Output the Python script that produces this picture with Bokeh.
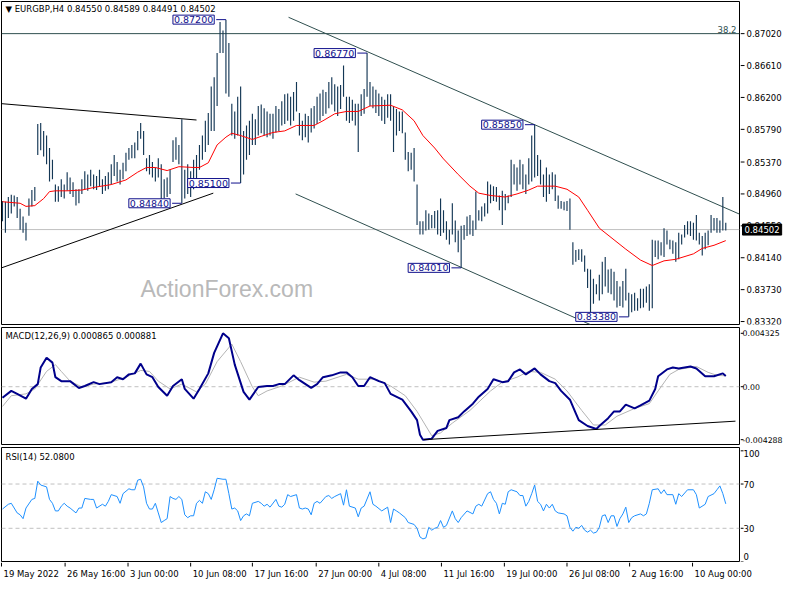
from bokeh.plotting import figure
from bokeh.layouts import column, row
from bokeh.models import Range1d, Span, Label
from bokeh.embed import file_html
from bokeh.resources import INLINE

# ---------------- data ----------------
symbol = "EURGBP,H4"
last_open = 0.84550
last_close = 0.84502
fib_level = 0.87020
fib_text = "38.2"

highs = [
    0.8487, 0.8486, 0.8492, 0.8495, 0.8494, 0.8492, 0.8477, 0.8467, 0.8459, 0.8490,
    0.8501, 0.8505, 0.8586, 0.8587, 0.8577, 0.8571, 0.8555, 0.8540, 0.8508, 0.8506,
    0.8515, 0.8508, 0.8524, 0.8517, 0.8511, 0.8502, 0.8502, 0.8515, 0.8525, 0.8521,
    0.8527, 0.8521, 0.8519, 0.8527, 0.8515, 0.8519, 0.8524, 0.8534, 0.8546, 0.8537,
    0.8527, 0.8536, 0.8549, 0.8555, 0.8559, 0.8562, 0.8577, 0.8587, 0.8577, 0.8542,
    0.8546, 0.8537, 0.8530, 0.8542, 0.8534, 0.8515, 0.8517, 0.8527, 0.8565, 0.8569,
    0.8559, 0.8592, 0.8527, 0.8534, 0.8525, 0.8540, 0.8546, 0.8559, 0.8571, 0.8590,
    0.8600, 0.8634, 0.8646, 0.8677, 0.8717, 0.8706, 0.8720, 0.8690, 0.8612, 0.8602,
    0.8621, 0.8634, 0.8577, 0.8584, 0.8590, 0.8599, 0.8592, 0.8609, 0.8611, 0.8606,
    0.8602, 0.8599, 0.8599, 0.8609, 0.8605, 0.8615, 0.8624, 0.8625, 0.8621, 0.8627,
    0.8640, 0.8600, 0.8590, 0.8599, 0.8596, 0.8606, 0.8609, 0.8621, 0.8625, 0.8630,
    0.8627, 0.8640, 0.8646, 0.8637, 0.8634, 0.8636, 0.8661, 0.8621, 0.8621, 0.8617,
    0.8612, 0.8612, 0.8624, 0.8631, 0.8677, 0.8640, 0.8634, 0.8630, 0.8625, 0.8621,
    0.8617, 0.8624, 0.8624, 0.8609, 0.8605, 0.8602, 0.8602, 0.8575, 0.8550, 0.8549,
    0.8555, 0.8508, 0.8461, 0.8461, 0.8475, 0.8471, 0.8469, 0.8474, 0.8475, 0.8490,
    0.8475, 0.8461, 0.8450, 0.8484, 0.8462, 0.8449, 0.8455, 0.8456, 0.8467, 0.8469,
    0.8462, 0.8499, 0.8475, 0.8480, 0.8484, 0.8512, 0.8508, 0.8506, 0.8505, 0.8494,
    0.8500, 0.8496, 0.8494, 0.8540, 0.8534, 0.8530, 0.8540, 0.8534, 0.8521, 0.8542,
    0.8571, 0.8585, 0.8546, 0.8540, 0.8521, 0.8530, 0.8521, 0.8524, 0.8521, 0.8494,
    0.8487, 0.8486, 0.8487, 0.8490, 0.8434, 0.8424, 0.8425, 0.8425, 0.8417, 0.8400,
    0.8399, 0.8387, 0.8380, 0.8392, 0.8409, 0.8415, 0.8399, 0.8400, 0.8396, 0.8384,
    0.8377, 0.8384, 0.8400, 0.8369, 0.8367, 0.8369, 0.8362, 0.8374, 0.8374, 0.8377,
    0.8380, 0.8437, 0.8436, 0.8436, 0.8434, 0.8452, 0.8449, 0.8437, 0.8436, 0.8434,
    0.8446, 0.8444, 0.8456, 0.8461, 0.8461, 0.8459, 0.8469, 0.8446, 0.8442, 0.8446,
    0.8449, 0.8469, 0.8465, 0.8465, 0.8462, 0.8492, 0.84589,
]
lows = [
    0.8461, 0.8446, 0.8465, 0.8471, 0.8480, 0.8465, 0.8450, 0.8446, 0.8436, 0.8468,
    0.8480, 0.8487, 0.8546, 0.8552, 0.8544, 0.8534, 0.8512, 0.8515, 0.8486, 0.8486,
    0.8492, 0.8490, 0.8500, 0.8496, 0.8492, 0.8481, 0.8484, 0.8496, 0.8502, 0.8500,
    0.8506, 0.8502, 0.8501, 0.8506, 0.8496, 0.8500, 0.8502, 0.8508, 0.8519, 0.8512,
    0.8508, 0.8515, 0.8525, 0.8540, 0.8542, 0.8542, 0.8552, 0.8567, 0.8546, 0.8525,
    0.8521, 0.8517, 0.8512, 0.8517, 0.8487, 0.8490, 0.8492, 0.8496, 0.8537, 0.8540,
    0.8534, 0.8484, 0.8490, 0.8496, 0.8492, 0.8502, 0.8515, 0.8527, 0.8540, 0.8550,
    0.8559, 0.8577, 0.8577, 0.8609, 0.8677, 0.8677, 0.8625, 0.8621, 0.8571, 0.8567,
    0.8571, 0.8510, 0.8521, 0.8540, 0.8546, 0.8559, 0.8559, 0.8571, 0.8574, 0.8571,
    0.8569, 0.8571, 0.8567, 0.8575, 0.8577, 0.8584, 0.8586, 0.8590, 0.8584, 0.8590,
    0.8602, 0.8571, 0.8565, 0.8569, 0.8562, 0.8575, 0.8580, 0.8586, 0.8590, 0.8596,
    0.8599, 0.8606, 0.8611, 0.8602, 0.8596, 0.8605, 0.8621, 0.8590, 0.8587, 0.8590,
    0.8584, 0.8550, 0.8596, 0.8599, 0.8621, 0.8609, 0.8606, 0.8600, 0.8596, 0.8590,
    0.8586, 0.8594, 0.8590, 0.8550, 0.8571, 0.8577, 0.8574, 0.8540, 0.8525, 0.8527,
    0.8512, 0.8456, 0.8444, 0.8444, 0.8449, 0.8450, 0.8452, 0.8452, 0.8444, 0.8442,
    0.8446, 0.8437, 0.8431, 0.8444, 0.8434, 0.8421, 0.8401, 0.8437, 0.8442, 0.8444,
    0.8442, 0.8450, 0.8462, 0.8461, 0.8467, 0.8471, 0.8484, 0.8487, 0.8486, 0.8475,
    0.8456, 0.8475, 0.8484, 0.8492, 0.8508, 0.8500, 0.8508, 0.8502, 0.8496, 0.8508,
    0.8512, 0.8517, 0.8519, 0.8508, 0.8492, 0.8486, 0.8496, 0.8502, 0.8487, 0.8477,
    0.8477, 0.8475, 0.8474, 0.8450, 0.8405, 0.8409, 0.8411, 0.8409, 0.8396, 0.8375,
    0.8342, 0.8355, 0.8367, 0.8359, 0.8367, 0.8377, 0.8369, 0.8367, 0.8359, 0.8350,
    0.8352, 0.8350, 0.8359, 0.8338, 0.8344, 0.8346, 0.8346, 0.8349, 0.8350, 0.8356,
    0.8346, 0.8349, 0.8415, 0.8412, 0.8417, 0.8415, 0.8431, 0.8425, 0.8419, 0.8409,
    0.8412, 0.8431, 0.8440, 0.8444, 0.8442, 0.8437, 0.8436, 0.8431, 0.8417, 0.8425,
    0.8430, 0.8446, 0.8449, 0.8446, 0.8446, 0.8449, 0.84491,
]
bar_idx = list(range(1, len(highs) + 1))

ma_idx = [1, 7, 9, 12, 15, 17, 19, 23, 28, 33,
          38, 43, 47, 50, 53, 57, 61, 66, 68, 71,
          74, 77, 79, 82, 86, 89, 93, 97, 101, 107,
          110, 114, 118, 122, 126, 133, 137, 141, 144, 148,
          151, 156, 160, 163, 167, 172, 176, 180, 183, 189,
          193, 197, 200, 204, 209, 213, 218, 222, 226, 230,
          236, 239, 243, 247]
ma_val = [0.8486, 0.8484, 0.8480, 0.8481, 0.8490, 0.8499, 0.8500, 0.8500, 0.8501, 0.8505,
          0.8508, 0.8514, 0.8524, 0.8530, 0.8530, 0.8526, 0.8531, 0.8530, 0.8530, 0.8536,
          0.8559, 0.8569, 0.8574, 0.8571, 0.8566, 0.8570, 0.8575, 0.8577, 0.8584, 0.8584,
          0.8590, 0.8599, 0.8602, 0.8602, 0.8609, 0.8610, 0.8604, 0.8590, 0.8571, 0.8555,
          0.8541, 0.8521, 0.8506, 0.8497, 0.8494, 0.8492, 0.8496, 0.8501, 0.8506, 0.8506,
          0.8502, 0.8492, 0.8475, 0.8452, 0.8437, 0.8425, 0.8411, 0.8404, 0.8410, 0.8412,
          0.8419, 0.8426, 0.8430, 0.8436]

# swing highs / lows marked on the chart
swing_idx = [77, 62, 82, 125, 157, 182, 214]
swing_price = [0.87200, 0.84840, 0.85100, 0.86770, 0.84010, 0.85850, 0.83380]

# trend lines (bar index, price)
tl_upper_left_x = [0.67, 67.0]
tl_upper_left_y = [0.8612, 0.8591]
tl_lower_left_x = [0.67, 72.7]
tl_lower_left_y = [0.8401, 0.8497]
ch_upper_x = [98.3, 251.7]
ch_upper_y = [0.8723, 0.8470]
ch_lower_x = [100.7, 201.0]
ch_lower_y = [0.8496, 0.8328]

price_ticks = [0.87020, 0.86610, 0.86200, 0.85790, 0.85370, 0.84960, 0.84550, 0.84140, 0.83730, 0.83320]

macd_idx = [1, 4, 6, 9, 11, 13, 14, 16, 18, 19,
            21, 24, 27, 29, 32, 34, 38, 40, 42, 44,
            46, 48, 50, 52, 54, 57, 59, 62, 63, 66,
            68, 71, 73, 76, 78, 80, 83, 85, 88, 91,
            93, 95, 97, 100, 102, 106, 108, 110, 113, 116,
            118, 120, 122, 124, 126, 129, 131, 133, 137, 140,
            142, 143, 144, 147, 149, 152, 153, 156, 158, 161,
            163, 166, 168, 171, 173, 175, 177, 179, 182, 184,
            187, 189, 191, 194, 196, 197, 200, 203, 204, 207,
            209, 211, 213, 216, 218, 221, 223, 224, 227, 229,
            231, 235, 237, 240, 243, 246, 247]
macd_val = [-0.00089, -0.00034, -0.00058, -0.00097, -0.00018, 0.00021, 0.00156, 0.00235, 0.00195, 0.00077,
            0.00045, 0.00045, -0.00010, 0.00006, 0.00037, 0.00021, 0.00037, 0.00077, 0.00061, 0.00100,
            0.00108, 0.00187, 0.00100, 0.00077, -0.00002, -0.00073, 0.00006, 0.00061, -0.00018, -0.00097,
            -0.00018, 0.00108, 0.00274, 0.004325, 0.00393, 0.00179, -0.00042, -0.00105, -0.00002, 0.00006,
            0.00006, 0.00021, 0.00021, 0.00092, 0.00053, -0.00010, 0.00021, 0.00077, 0.00092, 0.00116,
            0.00116, 0.00077, 0.00006, 0.00006, 0.00077, 0.00045, 0.00029, -0.00058, -0.00105, -0.00200,
            -0.00271, -0.00389, -0.004288, -0.00421, -0.00358, -0.00334, -0.00271, -0.00247, -0.00200, -0.00137,
            -0.00081, -0.00018, 0.00061, 0.00037, 0.00045, 0.00116, 0.00140, 0.00100, 0.00148, 0.00100,
            0.00045, 0.00029, -0.00034, -0.00105, -0.00216, -0.00271, -0.00318, -0.00342, -0.00318, -0.00255,
            -0.00200, -0.00200, -0.00145, -0.00176, -0.00152, -0.00113, -0.00018, 0.00085, 0.00140, 0.00156,
            0.00148, 0.00164, 0.00148, 0.00085, 0.00085, 0.00108, 0.000865]

sig_idx = [1, 4, 9, 12, 16, 19, 21, 24, 28, 32,
           38, 43, 48, 51, 54, 58, 62, 67, 70, 74,
           79, 82, 86, 88, 91, 96, 102, 107, 111, 118,
           122, 128, 133, 138, 142, 147, 150, 154, 160, 167,
           171, 176, 180, 184, 189, 193, 198, 202, 206, 210,
           216, 221, 224, 228, 231, 237, 241, 244, 247]
sig_val = [-0.00160, -0.00073, -0.00058, -0.00018, 0.00124, 0.00179, 0.00124, 0.00045, -0.00002, 0.00021,
           0.00037, 0.00077, 0.00132, 0.00124, 0.00045, -0.00018, 0.00021, -0.00042, 0.00021, 0.00203,
           0.00345, 0.00203, -0.00002, -0.00073, -0.00034, 0.00006, 0.00077, 0.00037, 0.00045, 0.00100,
           0.00061, 0.00061, 0.00006, -0.00073, -0.00200, -0.00397, -0.00374, -0.00295, -0.00192, -0.00034,
           0.00037, 0.00077, 0.00124, 0.00116, 0.00061, -0.00034, -0.00192, -0.00310, -0.00310, -0.00239,
           -0.00176, -0.00137, -0.00034, 0.00100, 0.00140, 0.00164, 0.00116, 0.00092, 0.000881]

macd_tl_x = [144.3, 250.3]
macd_tl_y = [-0.00429, -0.00279]
macd_ticks = [0.004325, 0.0, -0.004288]
macd_tick_text = ["0.004325", "0.00", "-0.004288"]

rsi_idx = [1, 3, 4, 6, 7, 8, 9, 11, 12, 13,
           14, 16, 17, 18, 19, 20, 21, 22, 23, 24,
           26, 27, 28, 29, 31, 32, 33, 35, 36, 37,
           38, 40, 41, 42, 44, 45, 46, 47, 48, 49,
           50, 51, 52, 53, 54, 55, 56, 57, 58, 59,
           60, 61, 62, 63, 64, 65, 66, 67, 68, 69,
           70, 71, 72, 73, 74, 76, 77, 78, 79, 80,
           81, 82, 83, 84, 85, 86, 88, 89, 90, 91,
           92, 94, 95, 96, 97, 98, 99, 101, 102, 103,
           104, 105, 106, 107, 108, 109, 111, 112, 113, 114,
           116, 117, 118, 119, 121, 122, 123, 124, 126, 127,
           128, 130, 132, 133, 134, 135, 136, 138, 139, 141,
           142, 143, 144, 145, 146, 147, 148, 149, 150, 151,
           152, 154, 155, 156, 157, 159, 161, 162, 163, 164,
           166, 167, 168, 169, 170, 171, 172, 173, 174, 176,
           177, 178, 179, 180, 181, 182, 183, 184, 185, 186,
           187, 188, 189, 190, 192, 193, 194, 195, 196, 197,
           198, 199, 200, 201, 202, 203, 204, 205, 206, 207,
           208, 209, 210, 211, 212, 213, 214, 215, 216, 218,
           219, 220, 221, 222, 224, 225, 226, 227, 229, 230,
           231, 232, 234, 236, 237, 238, 240, 241, 243, 244,
           245, 246, 247]
rsi_val = [47.4, 51.7, 52.6, 43.9, 42.2, 38.7, 48.3, 56.1, 57.0, 72.6,
           69.1, 67.4, 56.1, 52.6, 45.7, 45.7, 50.0, 52.6, 50.0, 48.3,
           43.9, 48.3, 48.3, 57.0, 56.1, 56.1, 48.3, 51.7, 50.0, 54.3,
           60.4, 58.7, 52.6, 61.3, 65.7, 64.8, 64.8, 73.5, 74.3, 67.4,
           52.6, 47.4, 47.4, 52.6, 43.9, 35.2, 37.0, 38.7, 58.7, 57.0,
           56.1, 58.7, 56.1, 42.2, 39.6, 41.3, 41.3, 52.6, 55.2, 52.6,
           63.0, 61.3, 56.1, 64.8, 75.2, 74.3, 74.3, 61.3, 47.4, 48.3,
           45.7, 37.0, 41.3, 43.0, 41.3, 52.6, 54.3, 52.6, 50.0, 51.7,
           49.1, 56.1, 50.0, 49.1, 51.7, 60.4, 58.7, 60.4, 48.3, 47.4,
           48.3, 47.4, 42.2, 52.6, 54.3, 52.6, 58.7, 59.6, 57.0, 58.7,
           61.3, 50.9, 64.8, 50.0, 48.3, 40.4, 48.3, 50.0, 63.0, 51.7,
           50.0, 45.7, 49.1, 35.2, 47.4, 45.7, 43.9, 39.6, 35.2, 33.5,
           30.0, 22.2, 20.4, 21.3, 30.9, 28.3, 30.0, 30.9, 37.0, 30.9,
           32.6, 45.7, 38.7, 35.2, 39.6, 45.7, 43.0, 50.0, 51.7, 50.0,
           61.3, 63.0, 56.1, 52.6, 43.0, 52.6, 51.7, 63.0, 64.8, 63.0,
           59.6, 59.6, 50.0, 54.3, 61.3, 69.1, 54.3, 51.7, 45.7, 51.7,
           48.3, 51.7, 45.7, 43.9, 43.0, 41.3, 30.9, 27.4, 30.9, 30.0,
           32.6, 28.3, 26.5, 28.3, 25.7, 26.5, 30.9, 41.3, 42.2, 35.2,
           41.3, 41.3, 31.7, 38.7, 43.0, 49.1, 35.2, 39.6, 41.3, 43.0,
           41.3, 43.0, 52.6, 64.8, 65.7, 61.3, 64.8, 60.4, 60.4, 51.7,
           61.3, 58.7, 64.8, 64.8, 60.4, 48.3, 51.7, 58.7, 61.3, 64.8,
           68.3, 61.3, 52.08]
rsi_levels = [70, 30]
rsi_ticks = [100, 70, 30, 0]

time_idx = [0.67, 22.3, 43.7, 65.0, 86.0, 107.7, 129.0, 150.3, 171.7, 193.0, 214.3, 235.7]
time_labels = ["19 May 2022", "26 May 16:00", "3 Jun 00:00", "10 Jun 08:00", "17 Jun 16:00",
               "27 Jun 00:00", "4 Jul 08:00", "11 Jul 16:00", "19 Jul 00:00", "26 Jul 08:00",
               "2 Aug 16:00", "10 Aug 00:00"]

# ---------------- styling ----------------
FONT = "DejaVu Sans"
FS = "8.5px"
TOTAL_W = 784
P_W = 740            # panel canvas width (1px border each side)
A_W = TOTAL_W - P_W  # right price-scale strip
FRAME_W = P_W - 2
BAR = "#143755"
BOX = "#10108C"
SLATE = "#2F4F4F"
SILVER = "#C0C0C0"

X0, X1 = 0.67, 251.67
x_rng = Range1d(X0, X1)
px_per_bar = FRAME_W / (X1 - X0)


def base_fig(w, h, xr, yr, left, right, top, bottom, outline=True):
    p = figure(width=w, height=h, x_range=xr, y_range=yr,
               output_backend="svg", toolbar_location=None, title=None,
               x_axis_location=None, y_axis_location=None,
               min_border_left=left, min_border_right=right,
               min_border_top=top, min_border_bottom=bottom)
    p.grid.visible = False
    p.outline_line_color = "black" if outline else None
    p.background_fill_color = "white"
    p.border_fill_color = "white"
    return p


def txt(p, x, y, text, xu="screen", yu="screen", **kw):
    opts = dict(text_font=FONT, text_font_size=FS, text_color="black",
                text_baseline="middle", text_align="left")
    opts.update(kw)
    p.add_layout(Label(x=x, y=y, x_units=xu, y_units=yu, text=text, **opts))


def scale_strip(h, yr, top, bottom, ticks, texts, tick_len, text_x, fs=FS, offsets=None):
    a = base_fig(A_W, h, Range1d(0, A_W), yr, 0, 0, top, bottom, outline=False)
    a.segment(x0=[0] * len(ticks), y0=ticks, x1=[tick_len] * len(ticks), y1=ticks,
              line_color="black", line_width=1)
    offsets = offsets or [0] * len(ticks)
    for v, t, off in zip(ticks, texts, offsets):
        txt(a, text_x, v, t, xu="data", yu="data", text_font_size=fs, y_offset=off)
    return a


# ---------------- main price panel ----------------
H1 = 326
FH1 = H1 - 3
y1r = Range1d(0.83282, 0.87433)
p1 = base_fig(P_W, H1, x_rng, y1r, 1, 1, 1, 2)

p1.add_layout(Span(location=fib_level, dimension="width", line_color=SLATE, line_width=1, level="underlay"))
p1.add_layout(Span(location=last_close, dimension="width", line_color=SILVER, line_width=1, level="underlay"))

txt(p1, 139, 36, "ActionForex.com", text_font="Liberation Sans", text_font_size="23px",
    text_color="#B9B9B9", text_baseline="alphabetic")

p1.line(tl_upper_left_x, tl_upper_left_y, line_color="black", line_width=1)
p1.line(tl_lower_left_x, tl_lower_left_y, line_color="black", line_width=1)
p1.line(ch_upper_x, ch_upper_y, line_color=SLATE, line_width=1)
p1.line(ch_lower_x, ch_lower_y, line_color=SLATE, line_width=1)

p1.segment(x0=bar_idx, y0=lows, x1=bar_idx, y1=highs, line_color=BAR, line_width=1.15)
p1.line(ma_idx, ma_val, line_color="#FF0000", line_width=1)

box_x = [i - 3.3 for i in swing_idx]
p1.segment(x0=box_x, y0=swing_price, x1=swing_idx, y1=swing_price, line_color=BOX, line_width=1)
for bx, pr in zip(box_x, swing_price):
    p1.add_layout(Label(x=bx, y=pr, text=f"{pr:.5f}", text_align="right", text_baseline="middle",
                        x_offset=-2, text_font=FONT, text_font_size="9.5px", text_color=BOX,
                        background_fill_color="white", border_line_color=BOX, border_line_width=1,
                        padding=1))

txt(p1, FRAME_W - 3, fib_level, fib_text, yu="data", text_align="right", text_baseline="bottom",
    y_offset=1, text_color=SLATE)
txt(p1, 4, FH1 - 7, f"\u25BC {symbol}  {last_open:.5f} {highs[-1]:.5f} {lows[-1]:.5f} {last_close:.5f}")

a1 = scale_strip(H1, y1r, 1, 2, price_ticks, [f"{t:.5f}" for t in price_ticks], 4, 6)
a1.add_layout(Label(x=2, y=last_close, x_units="data", y_units="data",
                    text=f"{last_close:.5f}", text_font=FONT, text_font_size=FS,
                    text_color="white", text_baseline="middle", text_align="left",
                    background_fill_color="black", border_line_color="black", padding=2))

# ---------------- MACD panel ----------------
H2 = 120
FH2 = H2 - 3
y2r = Range1d(-0.00468, 0.004795)
p2 = base_fig(P_W, H2, x_rng, y2r, 1, 1, 1, 2)
p2.add_layout(Span(location=0, dimension="width", line_color=SILVER, line_width=1,
                   line_dash="4 3", level="underlay"))
p2.line(sig_idx, sig_val, line_color="#B4B4B4", line_width=1)
p2.line(macd_idx, macd_val, line_color="#00008B", line_width=2)
p2.line(macd_tl_x, macd_tl_y, line_color="black", line_width=1)
txt(p2, 4, FH2 - 8, f"MACD(12,26,9) {macd_val[-1]:.6f} {sig_val[-1]:.6f}")
a2 = scale_strip(H2, y2r, 1, 2, macd_ticks, macd_tick_text, 3, 2, fs="7.8px")

# ---------------- RSI panel ----------------
H3 = 116
FH3 = H3 - 2
y3r = Range1d(0, 103)
p3 = base_fig(P_W, H3, x_rng, y3r, 1, 1, 1, 1)
for lv in rsi_levels:
    p3.add_layout(Span(location=lv, dimension="width", line_color=SILVER, line_width=1,
                       line_dash="4 3", level="underlay"))
p3.line(rsi_idx, rsi_val, line_color="#1E90FF", line_width=1)
txt(p3, 4, FH3 - 9, f"RSI(14) {rsi_val[-1]:.4f}")
a3 = scale_strip(H3, y3r, 1, 1, rsi_ticks, [str(t) for t in rsi_ticks], 3, 3,
                 offsets=[-3, 0, 0, 5])

# ---------------- time scale strip ----------------
H4 = 22
sx0 = X0 - 1 / px_per_bar
strip = base_fig(TOTAL_W, H4, Range1d(sx0, sx0 + TOTAL_W / px_per_bar), Range1d(0, H4),
                 0, 0, 0, 0, outline=False)
strip.segment(x0=time_idx, y0=[H4] * len(time_idx), x1=time_idx, y1=[H4 - 4] * len(time_idx),
              line_color="black", line_width=1)
for ti, tl in zip(time_idx, time_labels):
    txt(strip, ti, H4 / 2, tl, xu="data", yu="data", x_offset=2)

layout = column(row(p1, a1), row(p2, a2), row(p3, a3), strip)
open("out.html", "w").write(file_html(layout, INLINE, title="EURGBP H4"))
